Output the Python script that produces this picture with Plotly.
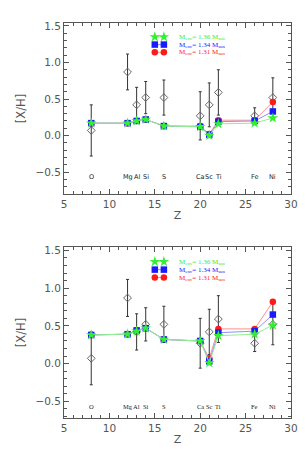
import plotly.graph_objects as go

Z = [8, 12, 13, 14, 16, 20, 21, 22, 26, 28]
elements = ["O", "Mg", "Al", "Si", "S", "Ca", "Sc", "Ti", "Fe", "Ni"]
obs = [0.07, 0.87, 0.42, 0.52, 0.52, 0.27, 0.42, 0.59, 0.27, 0.52]
obs_err = [0.35, 0.245, 0.24, 0.22, 0.24, 0.33, 0.30, 0.31, 0.11, 0.27]

top_136 = [0.17, 0.17, 0.20, 0.22, 0.13, 0.12, 0.00, 0.16, 0.17, 0.24]
top_134 = [0.17, 0.17, 0.20, 0.22, 0.13, 0.12, 0.01, 0.19, 0.20, 0.33]
top_131 = [0.17, 0.17, 0.20, 0.22, 0.13, 0.13, 0.02, 0.21, 0.21, 0.46]

bot_136 = [0.38, 0.39, 0.43, 0.47, 0.32, 0.30, 0.01, 0.37, 0.39, 0.51]
bot_134 = [0.38, 0.39, 0.44, 0.47, 0.32, 0.30, 0.03, 0.41, 0.43, 0.65]
bot_131 = [0.38, 0.39, 0.44, 0.47, 0.32, 0.30, 0.07, 0.46, 0.46, 0.82]

models = ["1.31", "1.34", "1.36"]
legend_rows = [1.14, 1.245, 1.35]

styles = {
    "1.31": dict(mcol="#ff1a1a", lcol="#ff9090", sym="circle", size=6.5),
    "1.34": dict(mcol="#1a1aff", lcol="#9090ff", sym="square", size=6.5),
    "1.36": dict(mcol="#33ee33", lcol="#90f090", sym="star", size=8),
}

fig = go.Figure()

panels = [
    ("x", "y", {"1.31": top_131, "1.34": top_134, "1.36": top_136}, "DejaVu Sans"),
    ("x2", "y2", {"1.31": bot_131, "1.34": bot_134, "1.36": bot_136}, "Liberation Serif"),
]

for xa, ya, data, efont in panels:
    fig.add_trace(go.Scatter(
        x=Z, y=obs, mode="markers", xaxis=xa, yaxis=ya,
        marker=dict(symbol="diamond-open", size=6, color="#666", line=dict(width=1, color="#666")),
        error_y=dict(type="data", array=obs_err, color="#333", thickness=1, width=1.5),
        showlegend=False))
    for m in models:
        s = styles[m]
        fig.add_trace(go.Scatter(
            x=Z, y=data[m], mode="lines+markers", xaxis=xa, yaxis=ya,
            line=dict(color=s["lcol"], width=1),
            marker=dict(symbol=s["sym"], size=s["size"], color=s["mcol"], line=dict(width=0)),
            showlegend=False))
    for m, ly in zip(models, legend_rows):
        s = styles[m]
        fig.add_trace(go.Scatter(
            x=[15, 16], y=[ly, ly], mode="lines+markers", xaxis=xa, yaxis=ya,
            line=dict(color=s["lcol"], width=1),
            marker=dict(symbol=s["sym"], size=s["size"], color=s["mcol"], line=dict(width=0)),
            showlegend=False))
        fig.add_annotation(
            x=17.4, y=ly, xref=xa, yref=ya, xanchor="left", yanchor="middle",
            text=f"M<sub>env</sub>= {m} M<sub>sun</sub>", showarrow=False,
            font=dict(family="Liberation Serif", size=7, color=s["mcol"]))
    for z, el in zip(Z, elements):
        fig.add_annotation(
            x=z, y=-0.57, xref=xa, yref=ya, text=el, showarrow=False,
            font=dict(family=efont, size=6.5, color="#222222"))

axis_common = dict(
    range=[5, 30], dtick=5, ticks="inside", ticklen=5,
    minor=dict(ticks="inside", ticklen=3, dtick=1, tickcolor="#555"),
    showline=True, mirror="allticks", linecolor="#555", linewidth=1, tickcolor="#555",
    showgrid=False, zeroline=False, tickfont=dict(family="DejaVu Sans", size=10.5, color="#555"),
    title=dict(text="Z", font=dict(family="DejaVu Sans", size=11, color="#555"), standoff=2),
)
yaxis_common = dict(
    dtick=0.5, tickformat=".1f", ticks="inside", ticklen=5,
    minor=dict(ticks="inside", ticklen=3, dtick=0.1, tickcolor="#555"),
    showline=True, mirror="allticks", linecolor="#555", linewidth=1, tickcolor="#555",
    showgrid=False, zeroline=False, tickfont=dict(family="DejaVu Sans", size=10.5, color="#555"),
    title=dict(text="[X/H]", font=dict(family="DejaVu Sans", size=11.5, color="#555"), standoff=7),
)

fig.update_layout(
    width=308, height=451,
    margin=dict(l=50, r=25, t=13, b=41),
    paper_bgcolor="white", plot_bgcolor="white",
    xaxis=dict(domain=[0, 1], anchor="y", **axis_common),
    yaxis=dict(domain=[0.567, 1], anchor="x", range=[-0.8, 1.54], **yaxis_common),
    xaxis2=dict(domain=[0, 1], anchor="y2", **axis_common),
    yaxis2=dict(domain=[0, 0.433], anchor="x2", range=[-0.72, 1.545], **yaxis_common),
)

fig.write_html("out.html")
